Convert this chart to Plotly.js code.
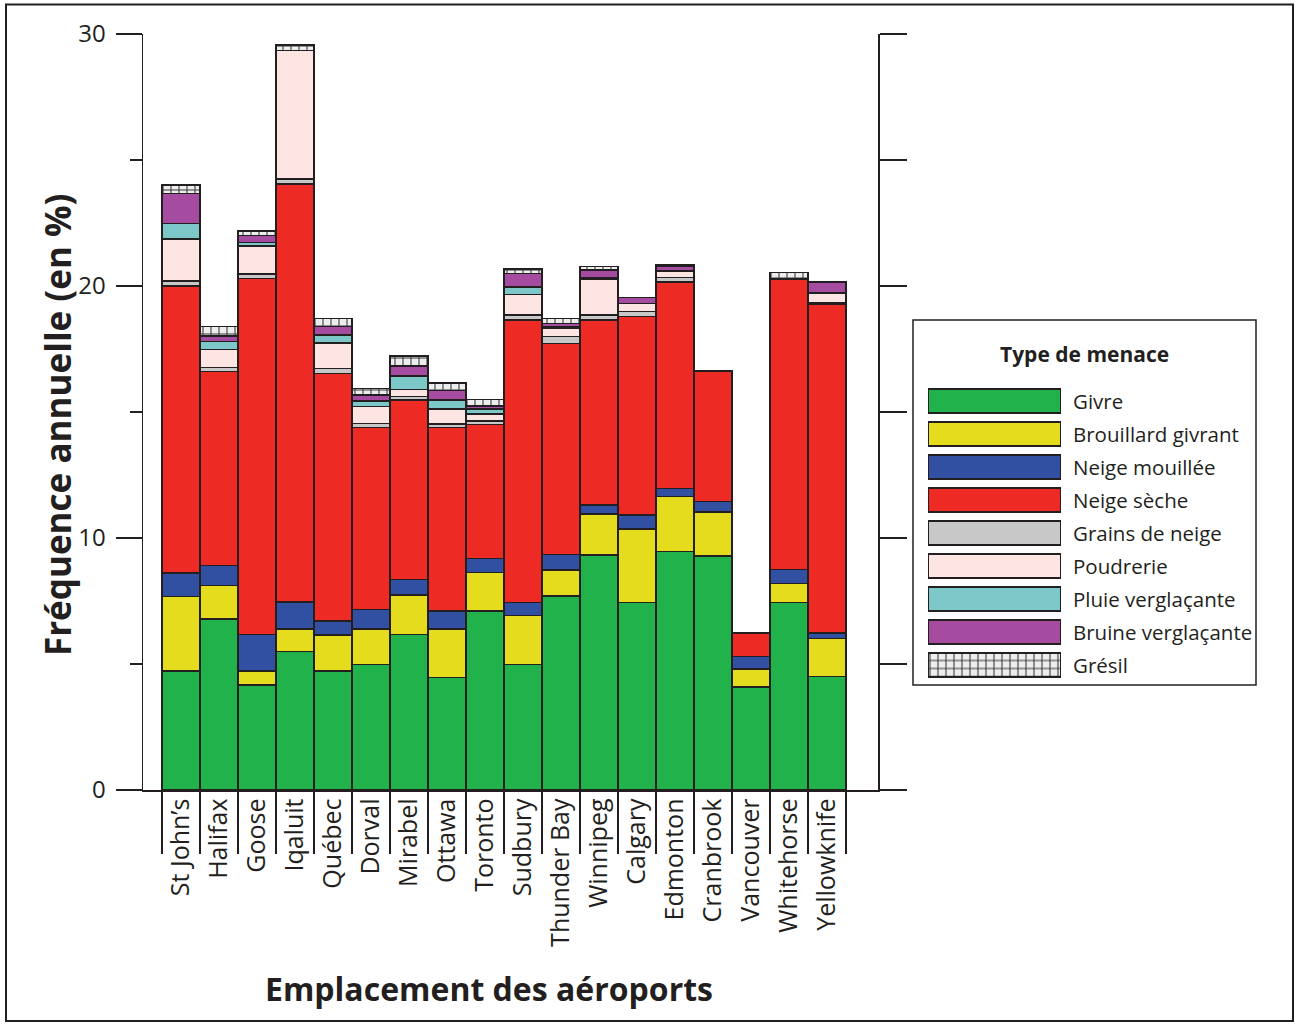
<!DOCTYPE html>
<html>
<head>
<meta charset="utf-8">
<script src="https://cdn.plot.ly/plotly-3.0.1.min.js"></script>
<style>
  html, body { margin: 0; padding: 0; background: #ffffff; }
  #chart { width: 1299px; height: 1026px; }
</style>
</head>
<body>
<div id="chart"></div>
<script>
// Airports along the x axis
const airports = ["St John’s", "Halifax", "Goose", "Iqaluit", "Québec", "Dorval", "Mirabel",
  "Ottawa", "Toronto", "Sudbury", "Thunder Bay", "Winnipeg", "Calgary", "Edmonton",
  "Cranbrook", "Vancouver", "Whitehorse", "Yellowknife"];

// Annual frequency (%) of each hazard type, per airport (stacked bottom to top)
const givre              = [4.73, 6.79, 4.17, 5.49, 4.73, 4.99, 6.18, 4.47, 7.10, 4.99, 7.70, 9.33, 7.45, 9.46, 9.29, 4.09, 7.45, 4.50];
const brouillardGivrant  = [2.94, 1.32, 0.56, 0.90, 1.42, 1.40, 1.56, 1.92, 1.54, 1.93, 1.03, 1.62, 2.91, 2.18, 1.75, 0.71, 0.75, 1.52];
const neigeMouillee      = [0.95, 0.79, 1.45, 1.08, 0.56, 0.78, 0.62, 0.71, 0.55, 0.53, 0.62, 0.36, 0.55, 0.33, 0.40, 0.49, 0.56, 0.22];
const neigeSeche         = [11.38, 7.70, 14.12, 16.58, 9.82, 7.22, 7.12, 7.29, 5.31, 11.20, 8.37, 7.34, 7.87, 8.18, 5.16, 0.95, 11.52, 13.03];
const grainsDeNeige      = [0.20, 0.17, 0.18, 0.20, 0.20, 0.16, 0.13, 0.13, 0.14, 0.20, 0.28, 0.20, 0.20, 0.18, 0.00, 0.00, 0.00, 0.05];
const poudrerie          = [1.67, 0.72, 1.11, 5.09, 1.00, 0.66, 0.29, 0.59, 0.28, 0.82, 0.32, 1.43, 0.33, 0.24, 0.00, 0.00, 0.00, 0.41];
const pluieVerglacante   = [0.62, 0.30, 0.13, 0.00, 0.33, 0.23, 0.53, 0.37, 0.20, 0.30, 0.05, 0.05, 0.00, 0.05, 0.00, 0.00, 0.00, 0.00];
const bruineVerglacante  = [1.19, 0.23, 0.28, 0.00, 0.33, 0.23, 0.40, 0.37, 0.12, 0.53, 0.15, 0.30, 0.23, 0.15, 0.00, 0.00, 0.00, 0.42];
const gresil             = [0.32, 0.37, 0.18, 0.22, 0.33, 0.27, 0.39, 0.31, 0.26, 0.17, 0.20, 0.14, 0.00, 0.06, 0.05, 0.00, 0.26, 0.00];

// Series names, in stacking order
const seriesNames = ["Givre", "Brouillard givrant", "Neige mouillée", "Neige sèche", "Grains de neige",
  "Poudrerie", "Pluie verglaçante", "Bruine verglaçante", "Grésil"];
const seriesValues = [givre, brouillardGivrant, neigeMouillee, neigeSeche, grainsDeNeige,
  poudrerie, pluieVerglacante, bruineVerglacante, gresil];

// Axis ticks
const yTickValues = [0, 10, 20, 30];
const yTickLabels = ["0", "10", "20", "30"];

// ---- styling ----
const W = 1299, H = 1026;
const INK = "#231f20";
const FONT = "Open Sans, Noto Sans, sans-serif";
const colors = ["#22b24c", "#e4dc1c", "#3250a2", "#ee2a24", "#c8c8c8", "#fde5e4", "#7cc8c9", "#a64ca0", "#e6e6e6"];
const patterns = [null, null, null, null, null, null, null, null,
  { shape: "+", fgcolor: "#3a3a3a", bgcolor: "#ededed", size: 8, solidity: 0.25, fillmode: "replace" }];

// plot area in pixels and x range of the category axis
const PLOT_L = 143, PLOT_R = 878, PLOT_T = 34, PLOT_B = 790;
const SEP_LEN = 62;
const X_RANGE = [-1.0, 18.34];

// pixel -> paper helpers (margins are zero, so paper spans the whole figure)
const px = v => v / W;
const py = v => 1 - v / H;

function markerFor(i) {
  const m = { color: colors[i], line: { color: INK, width: 1.5 } };
  if (patterns[i]) m.pattern = patterns[i];
  return m;
}

const traces = [];
seriesValues.forEach((vals, i) => {
  traces.push({
    type: "bar",
    x: airports,
    y: vals,
    name: seriesNames[i],
    marker: markerFor(i),
    showlegend: false,
    hoverinfo: "x+y+name"
  });
});

// carrier for the right-hand axis (draws nothing visible)
traces.push({
  type: "scatter", mode: "markers", x: airports, y: givre,
  yaxis: "y3", marker: { opacity: 0, size: 1 }, showlegend: false, hoverinfo: "skip"
});

// legend swatches: one horizontal bar per series on a small hidden subplot
seriesNames.forEach((name, i) => {
  traces.push({
    type: "bar",
    orientation: "h",
    x: [1],
    y: [i],
    width: 0.74,
    xaxis: "x2",
    yaxis: "y2",
    marker: markerFor(i),
    showlegend: false,
    hoverinfo: "skip"
  });
});

// legend layout (pixels)
const legTop = 384.5, legStep = 33;
const annotations = [
  { text: "<b>Fréquence annuelle (en %)</b>", xref: "paper", yref: "paper",
    x: px(57), y: py(425), textangle: -90, showarrow: false,
    xanchor: "center", yanchor: "middle", font: { size: 35, color: INK, family: FONT } },
  { text: "<b>Emplacement des aéroports</b>", xref: "paper", yref: "paper",
    x: px(489), y: py(988), showarrow: false,
    xanchor: "center", yanchor: "middle", font: { size: 32, color: INK, family: FONT } },
  { text: "<b>Type de menace</b>", xref: "paper", yref: "paper",
    x: px(1084), y: py(354), showarrow: false,
    xanchor: "center", yanchor: "middle", font: { size: 21, color: INK, family: FONT } }
];
seriesNames.forEach((name, i) => {
  annotations.push({
    text: name, xref: "paper", yref: "paper",
    x: px(1071), y: py(legTop + legStep * (i + 0.5)), showarrow: false,
    xanchor: "left", yanchor: "middle", font: { size: 20.5, color: INK, family: FONT }
  });
});

const shapes = [
  // outer frame
  { type: "rect", xref: "paper", yref: "paper", x0: px(6), x1: px(1293), y0: py(1021), y1: py(4.5),
    line: { color: INK, width: 2 }, fillcolor: "rgba(0,0,0,0)" },
  // legend box
  { type: "rect", xref: "paper", yref: "paper", x0: px(913), x1: px(1256), y0: py(685), y1: py(320),
    line: { color: INK, width: 1.5 }, fillcolor: "rgba(0,0,0,0)" }
];

const layout = {
  width: W, height: H,
  margin: { l: 0, r: 0, t: 0, b: 0 },
  paper_bgcolor: "#ffffff",
  plot_bgcolor: "rgba(0,0,0,0)",
  barmode: "stack",
  bargap: 0,
  font: { family: FONT, color: INK },
  xaxis: {
    domain: [px(PLOT_L), px(PLOT_R)],
    type: "category",
    categoryorder: "array",
    categoryarray: airports,
    range: X_RANGE,
    showline: true, linecolor: INK, linewidth: 1.5,
    // long boundary ticks act as separators between the labels
    ticks: "outside", tickson: "boundaries", ticklen: SEP_LEN, tickwidth: 2, tickcolor: INK,
    ticklabelstandoff: -3,
    tickangle: -90,
    tickfont: { size: 25, color: INK, family: FONT },
    showgrid: false, zeroline: false, fixedrange: true
  },
  yaxis: {
    domain: [py(PLOT_B), py(PLOT_T)],
    range: [0, 30],
    tickvals: yTickValues, ticktext: yTickLabels,
    ticks: "outside", ticklen: 26, tickwidth: 1.5, tickcolor: INK,
    minor: { dtick: 5, ticks: "outside", ticklen: 12, tickwidth: 1.5, tickcolor: INK, showgrid: false },
    ticklabelstandoff: 5,
    tickfont: { size: 24, color: INK, family: FONT },
    showline: true, linecolor: INK, linewidth: 1.5,
    showgrid: false, zeroline: false, fixedrange: true
  },
  yaxis3: {
    overlaying: "y", anchor: "x", side: "right",
    range: [0, 30], dtick: 5, tick0: 0,
    ticks: "outside", ticklen: 27, tickwidth: 1.5, tickcolor: INK,
    showticklabels: false,
    showline: true, linecolor: INK, linewidth: 1.5,
    showgrid: false, zeroline: false, fixedrange: true
  },
  xaxis2: {
    domain: [px(926), px(1063)], anchor: "y2",
    range: [-0.02, 1.02], visible: false, fixedrange: true
  },
  yaxis2: {
    domain: [py(legTop + legStep * seriesNames.length), py(legTop)], anchor: "x2",
    range: [seriesNames.length - 0.5, -0.5], visible: false, fixedrange: true
  },
  shapes: shapes,
  annotations: annotations
};

Plotly.newPlot("chart", traces, layout, { staticPlot: true, displayModeBar: false });
</script>
</body>
</html>
